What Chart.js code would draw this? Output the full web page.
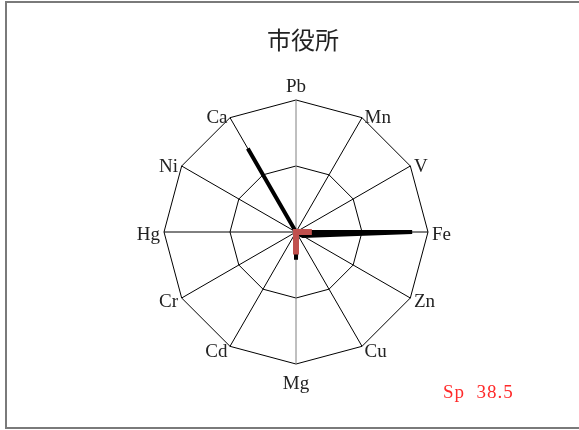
<!DOCTYPE html>
<html>
<head>
<meta charset="utf-8">
<script src="https://cdn.jsdelivr.net/npm/chart.js@4"></script>
<style>
html,body{margin:0;padding:0;background:#fff;}
#wrap{width:579px;height:430px;position:relative;}
</style>
</head>
<body>
<div id="wrap"><canvas id="c" width="579" height="430"></canvas></div>
<script>
const categories = ['Pb','Mn','V','Fe','Zn','Cu','Mg','Cd','Cr','Hg','Ni','Ca'];
const seriesBlack = [0,0,0,88,6,1,21,0,0,0,0,73];
const seriesRed = [0,0,0,12,0,0,17,0,0,0,0,0];
const titleText = '市役所';
const noteText = 'Sp  38.5';

const decor = {
  id:'decor',
  afterDraw(chart){
    const ctx = chart.ctx;
    const r = chart.scales.r;
    ctx.save();
    // frame
    ctx.strokeStyle = '#7a7a7a';
    ctx.lineWidth = 2;
    ctx.strokeRect(6, 2, 600, 426);
    // title
    ctx.fillStyle = '#222';
    ctx.font = '24px "Noto Sans CJK JP"';
    ctx.textAlign = 'center';
    ctx.textBaseline = 'middle';
    ctx.fillText(titleText, 303, 40);
    // point labels
    ctx.font = '19px "Liberation Serif"';
    ctx.fillStyle = '#222';
    categories.forEach((lab, i) => {
      const c = r.getPointPosition(i, r.drawingArea);
      const dx = c.x - r.xCenter, dy = c.y - r.yCenter;
      if (Math.abs(dx) < 1) {
        const p = r.getPointPosition(i, r.drawingArea + (dy < 0 ? 15 : 18));
        ctx.textAlign = 'center';
        ctx.fillText(lab, p.x, p.y + 2);
      } else {
        const p = r.getPointPosition(i, r.drawingArea + 3);
        ctx.textAlign = dx > 0 ? 'left' : 'right';
        ctx.fillText(lab, p.x + (dx > 0 ? 1 : -1), p.y + 3);
      }
    });
    // note
    ctx.fillStyle = '#ff2a2a';
    ctx.textAlign = 'left';
    ctx.letterSpacing = '1px';
    ctx.fillText(noteText, 443, 393);
    ctx.restore();
  }
};

new Chart(document.getElementById('c'), {
  type:'radar',
  data:{
    labels: categories,
    datasets:[
      {data: seriesRed, borderColor:'#c0504d', borderWidth:6, fill:false, pointRadius:0, backgroundColor:'transparent'},
      {data: seriesBlack, borderColor:'#000', borderWidth:4, fill:false, pointRadius:0, backgroundColor:'transparent'}
    ]
  },
  options:{
    responsive:false,
    animation:false,
    layout:{padding:{top:100,bottom:66,left:164,right:151}},
    plugins:{
      legend:{display:false},
      tooltip:{enabled:false},
      title:{display:false}
    },
    scales:{
      r:{
        min:0, max:100,
        ticks:{display:false, stepSize:50},
        grid:{color:'#000', lineWidth:1},
        angleLines:{color:(ctx)=> (ctx.index===0||ctx.index===6)?'#808080':'#000', lineWidth:1},
        pointLabels:{display:false}
      }
    }
  },
  plugins:[decor]
});
</script>
</body>
</html>
